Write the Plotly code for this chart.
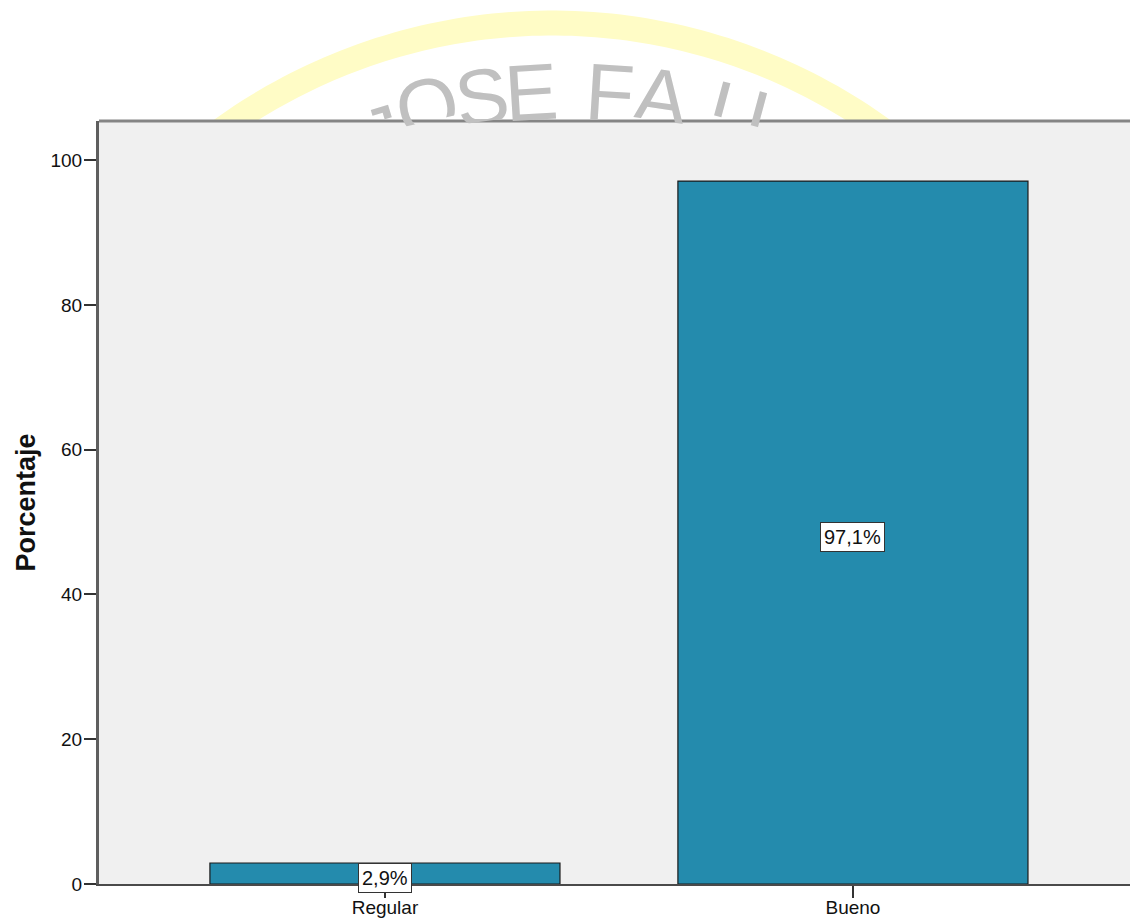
import numpy as np
import plotly.graph_objects as go

# ---------------- data ----------------
categories = ["Regular", "Bueno"]
percentages = [2.9, 97.1]
bar_labels = ["2,9%", "97,1%"]
y_ticks = [0, 20, 40, 60, 80, 100]
y_title = "Porcentaje"

# watermark (decorative) letters
wm_letters = ["J", "O", "S", "E", "F", "A", "U"]
wm_centers = [374, 421, 478, 529, 612, 666, 746]
wm_drop = [16, 0, 0, 0, 0, 0, 0]

# ---------------- layout geometry ----------------
W, H = 1130, 921
ML, MR, MT, MB = 99, 0, 121, 37
PW, PH = W - ML - MR, H - MT - MB


def px(x):
    return (x - ML) / PW


def py(y):
    return (H - MB - y) / PH


BAR_COLOR = "#248BAD"
FONT = "Arial, Liberation Sans, sans-serif"

fig = go.Figure()
fig.add_trace(go.Bar(
    x=categories, y=percentages, width=0.748,
    marker=dict(color=BAR_COLOR, line=dict(color="#1a1a1a", width=1.2)),
    hoverinfo="skip", showlegend=False,
))

annotations = []
for c, v, t in zip(categories, percentages, bar_labels):
    annotations.append(dict(
        x=c, y=v / 2, xref="x", yref="y", text=t, showarrow=False,
        font=dict(family=FONT, size=20, color="#111"),
        bgcolor="white", bordercolor="#333", borderwidth=1, borderpad=3,
        yshift=-4,
    ))

# ---------- watermark: yellow arc ----------
shapes = []
acx, acy, arm, ahalf = 552, 588, 565, 12.5
ycut = MT
ro, ri = arm + ahalf, arm - ahalf
po = np.arccos((acy - ycut) / ro)
pi_ = np.arccos((acy - ycut) / ri)
outer = [(acx + ro * np.sin(a), acy - ro * np.cos(a)) for a in np.linspace(-po, po, 80)]
inner = [(acx + ri * np.sin(a), acy - ri * np.cos(a)) for a in np.linspace(pi_, -pi_, 80)]
pts = outer + inner
path = "M " + " L ".join(f"{px(x):.5f},{py(y):.5f}" for x, y in pts) + " Z"
shapes.append(dict(type="path", xref="paper", yref="paper", path=path,
                   fillcolor="#FFFCC6", line=dict(width=0), layer="below"))

# ---------- watermark: grey letters, clipped at plot top ----------
tcx, tcy, rt = 570, 742, 680
fs = 80
cap_off = 0.189 * fs + 1
for ch, xc, dr in zip(wm_letters, wm_centers, wm_drop):
    th = np.arcsin((xc - tcx) / rt)
    Tx, Ty = tcx + rt * np.sin(th), tcy - rt * np.cos(th) + dr
    ux, uy = -np.sin(th), np.cos(th)
    vis = max((ycut - Ty) / np.cos(th), 1)
    h = cap_off - 1 + vis
    hb = h + 2
    Bx, By = Tx + (hb / 2 - cap_off) * ux, Ty + (hb / 2 - cap_off) * uy
    annotations.append(dict(
        x=px(Bx), y=py(By), xref="paper", yref="paper", text=ch,
        showarrow=False, xanchor="center", yanchor="middle",
        textangle=float(np.degrees(th)), height=h, valign="top",
        font=dict(family=FONT, size=fs, color="#C0C0C0"),
    ))

# top border of plot frame
shapes.append(dict(type="line", xref="paper", yref="paper", x0=0, x1=1, y0=1, y1=1,
                   line=dict(color="#858585", width=3), layer="above"))

fig.update_layout(
    width=W, height=H,
    margin=dict(l=ML, r=MR, t=MT, b=MB, pad=0),
    paper_bgcolor="white", plot_bgcolor="#F0F0F0",
    font=dict(family=FONT, color="#111"),
    shapes=shapes, annotations=annotations,
)
fig.update_xaxes(
    type="category", range=[-0.611, 1.592], automargin=False,
    showline=True, linecolor="#4a4a4a", linewidth=2,
    ticks="outside", ticklen=12, tickwidth=1.5, tickcolor="#333",
    tickfont=dict(family=FONT, size=19, color="#111"), ticklabelstandoff=-7,
    showgrid=False, zeroline=False,
)
fig.update_yaxes(
    range=[0, 105.4], tickvals=y_ticks, automargin=False,
    showline=True, linecolor="#5e5e5e", linewidth=3,
    ticks="outside", ticklen=12, tickwidth=1.5, tickcolor="#333",
    tickfont=dict(family=FONT, size=19, color="#111"), ticklabelstandoff=-2,
    showgrid=False, zeroline=False,
    title=dict(text=y_title, standoff=8,
               font=dict(family=FONT, size=27, color="#111", weight="bold")),
)

fig.write_html(
    "out.html",
    config={"displayModeBar": False},
    post_script="document.body.style.margin='0';document.body.style.overflow='hidden';",
)
